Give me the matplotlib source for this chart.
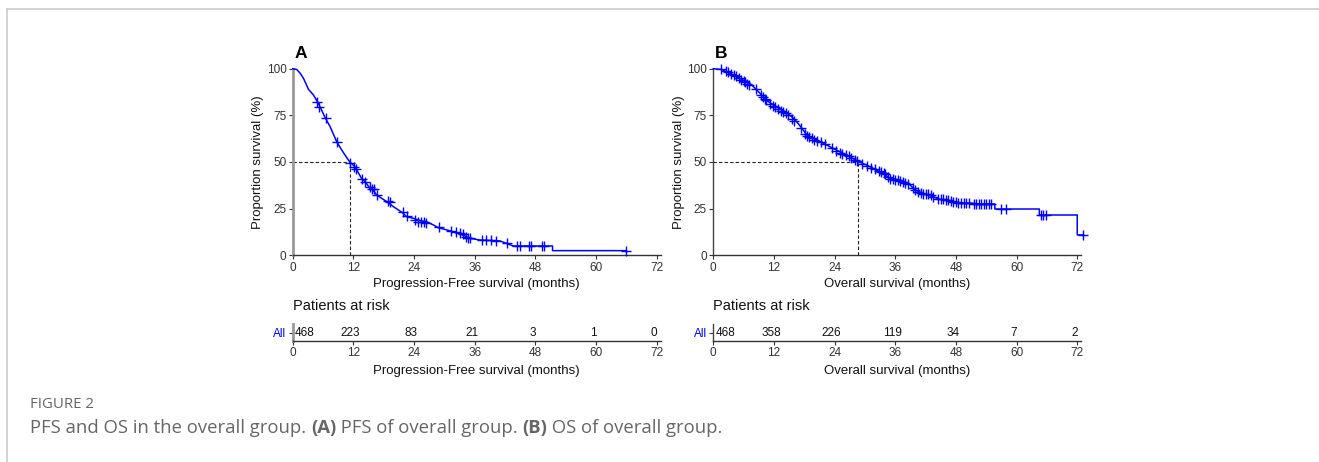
import matplotlib
matplotlib.use("Agg")
import matplotlib.pyplot as plt
from matplotlib.lines import Line2D

plt.rcParams['font.family'] = ['Liberation Sans', 'DejaVu Sans']

# ---------------- data ----------------
xticks = [0, 12, 24, 36, 48, 60, 72]
yticks = [0, 25, 50, 75, 100]

pfs_t = [0, 0.8, 1.5, 2.1, 2.7, 3.1, 3.6, 4.1, 4.9, 5.4, 6.4, 7.4, 8.7, 9.7, 11.0, 11.3, 12.3,
         13.6, 14.3, 15.3, 15.9, 16.6, 18.6, 19.9, 21.9, 22.5, 23.9, 25.2, 26.5, 27.8, 28.8,
         30.5, 32.4, 34.4, 35.1, 37.0, 41.0, 42.3, 43.6, 46.9, 51.4, 51.4, 66.0]
pfs_s = [100, 99.6, 97.5, 95.0, 91.5, 89.0, 87.5, 85.9, 82.3, 79.6, 73.9, 68.9, 60.9, 56.4,
         51.1, 50.0, 47.5, 41.3, 39.5, 35.9, 35.0, 32.3, 28.8, 26.1, 22.5, 20.7, 19.8, 18.6,
         18.0, 16.3, 14.8, 13.6, 12.1, 10.0, 9.1, 8.2, 7.7, 6.4, 5.0, 5.0, 5.0, 2.5, 2.5]
pfs_cens_t = [4.9, 5.2, 6.5, 8.8, 11.4, 12.2, 12.6, 13.8, 14.4, 15.2, 15.6, 16.0, 16.6, 18.9,
              19.2, 21.9, 22.6, 24.2, 24.8, 25.4, 26.0, 26.3, 29.0, 31.3, 32.3, 33.0, 33.6,
              34.3, 34.7, 35.0, 37.5, 38.3, 39.2, 40.2, 42.4, 44.4, 45.0, 46.8, 47.2, 49.3,
              49.8, 66.0]
pfs_cens_s = [82, 79.5, 73.5, 60.5, 49.5, 47.5, 46.5, 41, 39.5, 36.5, 35.5, 35.5, 32.5, 29,
              28.5, 23, 21, 19, 18, 18, 18, 17.5, 15, 13, 12.5, 12, 11.5, 10, 9.5, 9.5, 8,
              8, 8, 7.5, 6.5, 5, 5, 5, 5, 5, 5, 2.5]
pfs_median = 11.3

os_t = [0, 1.6, 2.6, 4.6, 6.6, 7.6, 8.6, 9.9, 10.9, 12.5, 14.2, 15.5, 16.5, 17.8, 18.5, 19.8,
        21.8, 23.7, 25.7, 27.0, 28.7, 30.3, 32.3, 33.6, 34.9, 36.9, 38.6, 39.9, 41.5, 43.5,
        44.8, 46.8, 48.8, 51.4, 52.7, 55.7, 55.7, 64.5, 64.5, 72.0, 72.0, 73.2]
os_s = [100, 99.6, 98.4, 95.7, 93.0, 91.3, 88.6, 85.0, 82.3, 79.6, 77.0, 74.3, 71.6, 67.1,
        64.5, 62.7, 60.0, 57.3, 54.6, 52.9, 50.2, 48.4, 45.7, 43.9, 41.3, 40.4, 38.6, 35.0,
        33.2, 31.4, 30.0, 29.3, 28.2, 27.9, 27.5, 27.5, 24.8, 24.8, 21.6, 21.6, 10.9, 10.9]
os_cens_t = [1.5, 2.5, 3.0, 3.5, 4.0, 4.5, 5.0, 5.5, 6.0, 6.3, 6.7, 7.0, 8.5, 9.5, 9.8, 10.2,
             10.5, 11.2, 11.8, 12.3, 12.8, 13.3, 13.8, 14.3, 14.8, 15.5, 16.0, 17.3, 18.2,
             18.6, 19.0, 19.5, 20.0, 20.5, 21.3, 22.0, 23.5, 24.3, 25.0, 25.5, 26.2, 26.8,
             27.3, 28.0, 28.5, 29.5, 30.5, 31.2, 32.0, 32.7, 33.2, 33.7, 34.0, 34.5, 35.0,
             35.5, 36.0, 36.5, 37.0, 37.5, 38.0, 38.5, 39.5, 40.0, 40.5, 41.0, 41.5, 42.0,
             42.5, 43.0, 43.5, 44.5, 45.0, 45.5, 46.0, 46.5, 47.0, 47.5, 48.0, 48.5, 49.0,
             49.5, 50.0, 50.5, 51.5, 52.0, 52.5, 53.0, 53.5, 54.0, 54.5, 55.0, 57.0, 58.0,
             64.8, 65.3, 65.8, 73.2]
os_cens_s = [99.6, 98.5, 98, 97, 96.5, 96, 95, 94, 93.5, 93, 92, 91.5, 89, 86, 85, 84, 83,
             81, 80, 79.5, 78.5, 77.5, 77, 76, 75, 73, 72, 68, 65, 64, 63.5, 63, 62, 61.5,
             60.5, 59.5, 57.5, 56, 55, 54.5, 53.5, 53, 52, 51, 50.5, 49, 48, 47, 46, 45,
             44.5, 44, 43.5, 42, 41, 41, 40.5, 40.5, 40, 39.5, 39, 38, 36, 35, 34, 33.5, 33,
             33, 33, 32.5, 31.5, 30, 30, 30, 29.5, 29.5, 29, 28.5, 28.5, 28, 28, 28, 28, 28,
             27.5, 27.5, 27.5, 27.5, 27.5, 27.5, 27.5, 27.5, 25, 25, 21.5, 21.5, 21.5, 11]
os_median = 28.7

risk_times = [0, 12, 24, 36, 48, 60, 72]
pfs_risk = [468, 223, 83, 21, 3, 1, 0]
os_risk = [468, 358, 226, 119, 34, 7, 2]

pfs_xlabel = "Progression-Free survival (months)"
os_xlabel = "Overall survival (months)"
ylabel = "Proportion survival (%)"

# ---------------- figure ----------------
W, H = 1319, 462
fig = plt.figure(figsize=(W / 100, H / 100), dpi=100)

def fx(px):
    return px / W

def fy(py):
    return 1 - py / H

BLUE = '#0000FF'
DARK = '#333333'
XMAX = 72.8

def style_axis(ax, left_col, left_lw):
    for s in ['top', 'right']:
        ax.spines[s].set_visible(False)
    ax.spines['left'].set_color(left_col)
    ax.spines['left'].set_linewidth(left_lw)
    ax.spines['bottom'].set_color(DARK)
    ax.spines['bottom'].set_linewidth(1.0)
    ax.tick_params(axis='both', colors=DARK, labelcolor='#333333', labelsize=8.5,
                   length=3, width=0.8, pad=1.5)

def km_panel(left_px, t, s, ct, cs, med, xlabel, letter, risk, left_col, left_lw):
    ax = fig.add_axes([fx(left_px), fy(255.3), fx(368), (255.3 - 68.7) / H])
    ax.plot(t, s, color=BLUE, lw=1.1, clip_on=False, zorder=3)
    ax.plot(ct, cs, ls='none', marker='+', ms=7, mew=1.0, color=BLUE, clip_on=False,
            zorder=4)
    ax.plot([0, med], [50, 50], color='#222222', lw=0.8, ls=(0, (3, 2)))
    ax.plot([med, med], [0, 50], color='#222222', lw=0.8, ls=(0, (3, 2)))
    ax.set_xlim(0, XMAX)
    ax.set_ylim(0, 100)
    ax.set_xticks(xticks)
    ax.set_yticks(yticks)
    style_axis(ax, left_col, left_lw)
    ax.set_xlabel(xlabel, fontsize=9.5, labelpad=3.2, color='#111111')
    ax.set_ylabel(ylabel, fontsize=9.5, labelpad=1.5, color='#111111')
    ax.text(0.005, 1.08, letter, transform=ax.transAxes, fontsize=12.5,
            fontweight='bold', ha='left', va='center')

    rax = fig.add_axes([fx(left_px), fy(341), fx(368), 17 / H])
    rax.set_xlim(0, XMAX)
    rax.set_ylim(0, 1)
    rax.set_xticks(xticks)
    rax.set_yticks([0.5])
    rax.set_yticklabels(['All'])
    style_axis(rax, left_col, left_lw)
    rax.get_yticklabels()[0].set_color(BLUE)
    for i, (tt, n) in enumerate(zip(risk_times, risk)):
        rax.text(tt + (0.4 if i == 0 else -0.6), 0.5, str(n), fontsize=8.5,
                 ha='left' if i == 0 else 'center', va='center', color='#111111')
    rax.set_xlabel(xlabel, fontsize=9.5, labelpad=3.8, color='#111111')
    rax.text(0.0, 2.06, 'Patients at risk', transform=rax.transAxes, fontsize=10.5,
             ha='left', va='center', color='#111111')
    return ax

km_panel(292.7, pfs_t, pfs_s, pfs_cens_t, pfs_cens_s, pfs_median, pfs_xlabel, 'A',
         pfs_risk, '#999999', 2.0)
km_panel(713.3, os_t, os_s, os_cens_t, os_cens_s, os_median, os_xlabel, 'B',
         os_risk, '#444444', 1.0)

# frame
fig.add_artist(Line2D([fx(6.5), 1], [fy(9), fy(9)], color='#cccccc', lw=1.2))
fig.add_artist(Line2D([fx(6.5), fx(6.5)], [0, fy(9)], color='#cccccc', lw=1.2))

# caption
CAP = '#666666'
capfont = ['Open Sans', 'DejaVu Sans']
fig.text(fx(30), fy(405), 'FIGURE 2', fontsize=10.8, color=CAP, family=capfont,
         va='center', ha='left')
pieces = [("PFS and OS in the overall group. ", 'normal'), ("(A)", 'bold'),
          (" PFS of overall group. ", 'normal'), ("(B)", 'bold'),
          (" OS of overall group.", 'normal')]
renderer = fig.canvas.get_renderer()
x = fx(30)
for txt, wt in pieces:
    t = fig.text(x, fy(428), txt, fontsize=13.3, color=CAP, family=capfont,
                 fontweight=wt, va='center', ha='left')
    bb = t.get_window_extent(renderer=renderer)
    x += bb.width / W

fig.savefig('out.png', dpi=100)
